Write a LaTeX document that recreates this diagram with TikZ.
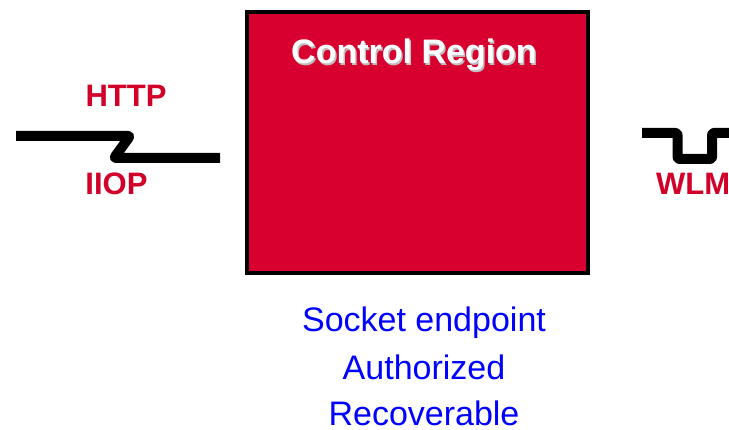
\documentclass[tikz,border=0pt]{standalone}
\usepackage{fontspec}
\setmainfont{Liberation Sans}
\usetikzlibrary{positioning}
\definecolor{regionred}{RGB}{215,0,46}
\definecolor{notered}{RGB}{210,0,40}
\definecolor{noteblue}{RGB}{0,0,255}

\tikzset{
  protolabel/.style={text=notered, font=\bfseries\fontsize{31}{36}\selectfont, inner sep=0pt},
  wire/.style={line width=10pt, line join=round, rounded corners=2pt}
}

\begin{document}
\begin{tikzpicture}[x=1pt,y=-1pt]
    \clip (0,0) rectangle (729,430);

    % the control region box
    \node[draw, line width=4pt, fill=regionred, minimum width=341pt, minimum height=261pt, inner sep=0pt] (region) at (417.5,142.5) {};
    \node[text=black!25, font=\bfseries\fontsize{34}{40}\selectfont, anchor=base, inner sep=0pt] (titleshadow) at (415.5,65.5) {Control Region};
    \node[text=white, font=\bfseries\fontsize{34}{40}\selectfont, anchor=base, inner sep=0pt] (title) at (414,64) {Control Region};

    % incoming protocols on the left
    \node[protolabel, anchor=base] (http) at (126,107) {HTTP};
    \node[protolabel, anchor=base] (iiop) at (116.5,195) {IIOP};
    \draw[wire] (16,136) -- (130,136) -- (114,158) -- (220,158);

    % workload management on the right
    \draw[wire] (642,133) -- (677.5,133) -- (677.5,159) -- (712,159) -- (712,133) -- (740,133);
    \node[protolabel, anchor=base west] (wlm) at (656,195) {WLM};

    % properties below the box
    \node[text=noteblue, font=\fontsize{34}{47}\selectfont, align=center, anchor=base, inner sep=0pt] (props) at (424,426) {Socket endpoint\\Authorized\\Recoverable};
\end{tikzpicture}
\end{document}
